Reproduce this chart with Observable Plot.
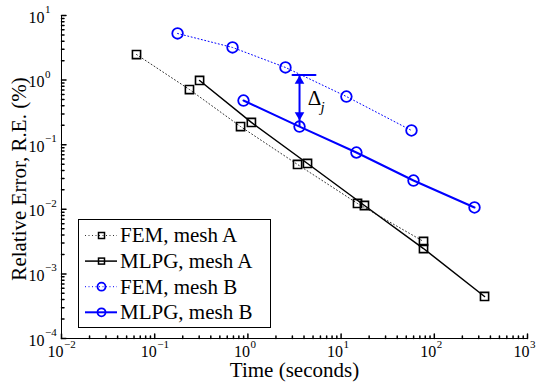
<!DOCTYPE html>
<html><head><meta charset="utf-8">
<script src="https://cdn.jsdelivr.net/npm/d3@7"></script>
<script src="https://cdn.jsdelivr.net/npm/@observablehq/plot@0.6"></script>
<style>body{margin:0;background:#fff}</style>
</head><body><div id="chart"></div>
<script>
// ---- data ----
const femATime = [0.0638, 0.236, 0.834, 3.41, 15.0, 76.6];
const femAErr  = [2.49, 0.715, 0.191, 0.0494, 0.0123, 0.00318];
const mlpgATime = [0.303, 1.09, 4.36, 17.8, 76.6, 346];
const mlpgAErr  = [0.986, 0.221, 0.0512, 0.01145, 0.00247, 0.000447];
const femBTime = [0.176, 0.684, 2.53, 11.4, 56.9];
const femBErr  = [5.27, 3.20, 1.57, 0.557, 0.166];
const mlpgBTime = [0.897, 3.58, 14.6, 59.8, 270];
const mlpgBErr  = [0.483, 0.191, 0.0757, 0.0279, 0.01067];
const seriesNames = ["FEM, mesh A", "MLPG, mesh A", "FEM, mesh B", "MLPG, mesh B"];
const xTickExponents = [-2, -1, 0, 1, 2, 3];
const yTickExponents = [-4, -3, -2, -1, 0, 1];
const deltaTime = 3.58, deltaTop = 1.2, deltaBottom = 0.191;
const xLabel = "Time (seconds)";
const yLabel = "Relative Error, R.E. (%)";

const FONT = "'Liberation Serif', 'Times New Roman', serif";
const BLUE = "#0000ff";

const series = [
  {name: seriesNames[0], t: femATime, e: femAErr, stroke: "#333", width: 1, dash: "1,2.5", symbol: "square", mstroke: "#000", mwidth: 1.6},
  {name: seriesNames[1], t: mlpgATime, e: mlpgAErr, stroke: "#000", width: 1.5, dash: null, symbol: "square", mstroke: "#000", mwidth: 1.6},
  {name: seriesNames[2], t: femBTime, e: femBErr, stroke: BLUE, width: 1, dash: "1,2.5", symbol: "circle", mstroke: BLUE, mwidth: 1.8},
  {name: seriesNames[3], t: mlpgBTime, e: mlpgBErr, stroke: BLUE, width: 2, dash: null, symbol: "circle", mstroke: BLUE, mwidth: 1.8}
];

const major = exps => exps.map(e => 10 ** e);
const minor = exps => exps.slice(0, -1).flatMap(e => d3.range(2, 10).map(k => k * 10 ** e));
const tickShape = {draw(ctx, l) { ctx.moveTo(0, 0); ctx.lineTo(0, -l); }};
const supText = e => e < 0 ? "\u2212" + (-e) : String(e);

function legend(index, scales, values, dims) {
  const H = (dims && dims.height) || 384;
  const ml = (dims && dims.marginLeft) || 61, mb = (dims && dims.marginBottom) || 46;
  const w = 192, h = 108;
  const left = ml + 17, bottom = H - mb - 11, top = bottom - h;
  const g = d3.create("svg:g").attr("font-family", FONT).attr("font-size", 21).attr("text-anchor", "start");
  g.append("rect").attr("x", left + 0.5).attr("y", top + 0.5).attr("width", w).attr("height", h)
    .attr("fill", "white").attr("stroke", "black").attr("stroke-width", 1);
  series.forEach((s, i) => {
    const cy = top + 16.5 + i * 25.6;
    g.append("line").attr("x1", left + 7).attr("x2", left + 39).attr("y1", cy).attr("y2", cy)
      .attr("stroke", s.stroke).attr("stroke-width", s.width).attr("stroke-dasharray", s.dash);
    if (s.symbol === "square") {
      g.append("rect").attr("x", left + 20.5).attr("y", cy - 3).attr("width", 6).attr("height", 6)
        .attr("fill", "none").attr("stroke", s.mstroke).attr("stroke-width", 1.5);
    } else {
      g.append("circle").attr("cx", left + 23.5).attr("cy", cy).attr("r", 4)
        .attr("fill", "none").attr("stroke", s.mstroke).attr("stroke-width", 1.8);
    }
    g.append("text").attr("x", left + 42).attr("y", cy).attr("dy", "0.33em")
      .attr("text-anchor", "start").attr("fill", "black").text(s.name);
  });
  return g.node();
}

const marks = [];
// axis lines
marks.push(Plot.ruleX([10 ** xTickExponents[0]], {stroke: "black", strokeWidth: 1}));
marks.push(Plot.ruleY([10 ** yTickExponents[0]], {stroke: "black", strokeWidth: 1}));
// ticks (inward)
marks.push(Plot.vector(major(xTickExponents), {x: d => d, frameAnchor: "bottom", length: 4.5, rotate: 0, anchor: "start", shape: tickShape, stroke: "black"}));
marks.push(Plot.vector(minor(xTickExponents), {x: d => d, frameAnchor: "bottom", length: 2.5, rotate: 0, anchor: "start", shape: tickShape, stroke: "black"}));
marks.push(Plot.vector(major(yTickExponents), {y: d => d, frameAnchor: "left", length: 4.5, rotate: 90, anchor: "start", shape: tickShape, stroke: "black"}));
marks.push(Plot.vector(minor(yTickExponents), {y: d => d, frameAnchor: "left", length: 2.5, rotate: 90, anchor: "start", shape: tickShape, stroke: "black"}));
// tick labels
marks.push(Plot.text(xTickExponents, {x: e => 10 ** e, frameAnchor: "bottom", text: () => "10", textAnchor: "end", dx: 2, dy: 18, fontSize: 16, fontFamily: FONT}));
marks.push(Plot.text(xTickExponents, {x: e => 10 ** e, frameAnchor: "bottom", text: supText, textAnchor: "start", dx: 2.5, dy: 9.5, fontSize: 11, fontFamily: FONT}));
marks.push(Plot.text(yTickExponents, {y: e => 10 ** e, frameAnchor: "left", text: () => "10", textAnchor: "end", dx: -17, dy: 2, fontSize: 16, fontFamily: FONT}));
marks.push(Plot.text(yTickExponents, {y: e => 10 ** e, frameAnchor: "left", text: supText, textAnchor: "start", dx: -16.5, dy: -6, fontSize: 11, fontFamily: FONT}));
// axis titles
marks.push(Plot.text([xLabel], {frameAnchor: "bottom", text: d => d, textAnchor: "middle", dy: 38, fontSize: 21, fontFamily: FONT}));
marks.push(Plot.text([yLabel], {frameAnchor: "left", text: d => d, textAnchor: "middle", rotate: -90, dx: -42, dy: 2, fontSize: 21, fontFamily: FONT}));
// series
for (const s of series) {
  const pts = d3.zip(s.t, s.e);
  marks.push(Plot.line(pts, {x: d => d[0], y: d => d[1], stroke: s.stroke, strokeWidth: s.width, strokeDasharray: s.dash}));
}
for (const s of series) {
  const pts = d3.zip(s.t, s.e);
  marks.push(Plot.dot(pts, {x: d => d[0], y: d => d[1], symbol: s.symbol, r: s.symbol === "square" ? 4.6 : 5.3, stroke: s.mstroke, strokeWidth: s.mwidth, fill: "none"}));
}
// Delta_j annotation
const delta = [{t: deltaTime, top: deltaTop, bottom: deltaBottom}];
marks.push(Plot.link(delta, {x1: "t", x2: "t", y1: "top", y2: "bottom", stroke: BLUE, strokeWidth: 2}));
marks.push(Plot.vector(delta, {x: "t", y: "top", length: 23, rotate: 90, anchor: "middle", dx: 4.5, shape: tickShape, stroke: BLUE, strokeWidth: 2}));
marks.push(Plot.dot(delta, {x: "t", y: "top", symbol: "triangle2", r: 4.6, fill: BLUE, dy: 6}));
marks.push(Plot.dot(delta, {x: "t", y: "bottom", symbol: "triangle2", r: 4.6, fill: BLUE, rotate: 180, dy: -11.5}));
marks.push(Plot.text(delta, {x: "t", y: d => Math.sqrt(d.top * d.bottom), text: () => "\u0394", dx: 15, dy: -2, fontSize: 21, fontFamily: FONT}));
marks.push(Plot.text(delta, {x: "t", y: d => Math.sqrt(d.top * d.bottom), text: () => "j", dx: 23, dy: 6, fontSize: 15, fontStyle: "italic", fontFamily: FONT}));
// legend
marks.push(legend);

const chart = Plot.plot({
  width: 538, height: 384,
  marginTop: 15, marginRight: 11, marginBottom: 46, marginLeft: 61,
  style: {fontFamily: FONT, background: "white", color: "black", overflow: "visible"},
  x: {type: "log", domain: [10 ** xTickExponents[0], 10 ** xTickExponents.at(-1)], axis: null},
  y: {type: "log", domain: [10 ** yTickExponents[0], 10 ** yTickExponents.at(-1)], axis: null},
  marks
});
document.getElementById("chart").appendChild(chart);
</script>
</body></html>
